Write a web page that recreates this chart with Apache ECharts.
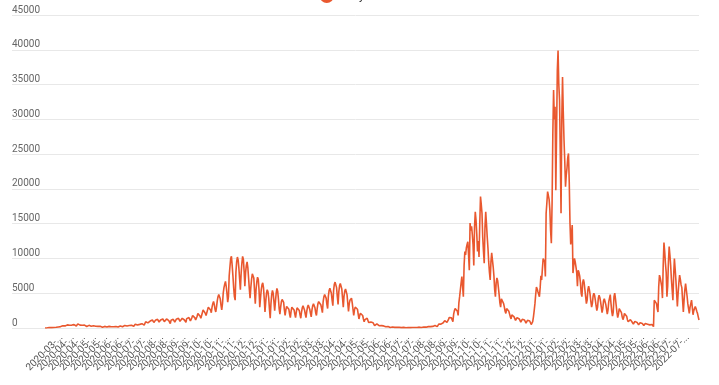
<!DOCTYPE html>
<html>
<head>
<meta charset="utf-8">
<script src="https://cdn.jsdelivr.net/npm/echarts@6/dist/echarts.min.js"></script>
<style>html,body{margin:0;padding:0;background:#fff}#c{width:719px;height:385px}</style>
</head>
<body>
<div id="c"></div>
<script>
const seriesName = 'Daily cases';
const startDate = '2020-03-08';
const yTicks = [0, 5000, 10000, 15000, 20000, 25000, 30000, 35000, 40000, 45000];
const dailyValues = [
10,15,20,25,30,40,50,
40,35,50,60,70,80,90,
80,100,70,120,150,170,190,
200,160,250,320,350,330,300,
210,380,450,480,460,400,330,
260,420,500,520,480,430,350,
280,450,600,550,500,420,340,
250,400,470,450,420,360,300,
220,330,400,380,350,310,260,
190,280,330,320,300,260,220,
150,230,270,260,240,210,170,
120,190,240,230,210,180,150,
110,180,230,220,200,170,140,
110,190,250,240,220,190,160,
140,230,300,290,270,230,190,
170,290,370,360,330,290,240,
210,350,450,430,400,350,290,
260,420,550,530,500,430,350,
320,520,680,650,620,540,440,
420,700,900,880,850,740,600,
560,1000,1250,1200,1150,1000,800,
650,1100,1350,1330,1250,1050,850,
700,1150,1400,1350,1300,1100,900,
640,1050,1300,1250,1200,1050,850,
620,1100,1350,1300,1250,1050,850,
800,1250,1500,1450,1400,1200,950,
700,1150,1400,1380,1300,1150,900,
800,1350,1600,1550,1500,1300,1000,
900,1500,1800,1750,1700,1450,1150,
1000,1700,2100,2000,1950,1700,1400,
1300,2200,2600,2500,2400,2100,1800,
1600,2600,3000,3100,2900,2600,2200,
3000,3500,3800,3400,2700,2300,3000,
3900,4500,4800,5000,4200,3300,2600,
3500,5000,5800,6300,6700,6000,5000,
3700,4500,7500,8800,10000,10300,9000,
7500,5800,4500,4000,8000,9500,10200,
9800,8600,7000,5500,7800,9300,10300,
9900,8200,6000,8000,9000,9500,8700,
7200,5600,4300,5800,7000,7800,8000,
7200,5300,3500,5500,6600,7300,7000,
5500,3000,4300,5500,6200,6500,5800,
4200,2300,3800,5000,5500,5200,4300,
2700,1400,3500,4800,5400,5000,3800,
2500,3800,5000,5700,5300,4200,2800,
2000,3000,3800,4100,4300,3700,2600,
1800,2600,3100,3300,3200,2700,2000,
1500,2400,3000,3200,3100,2600,2000,
1500,2300,2900,3100,3000,2500,1900,
1400,2300,2900,3200,3100,2600,2000,
1500,2400,3000,3300,3200,2700,2100,
1600,2600,3200,3500,3400,2900,2200,
1800,2800,3500,3800,3900,4000,3300,
2800,2200,3800,4500,4800,5000,4300,
3400,2800,4600,5400,5700,5900,5000,
4000,3200,5400,6300,6600,6700,5800,
4500,3400,5200,6100,6400,6500,5600,
4300,3000,4600,5300,5600,5700,4800,
3600,2400,3500,4000,4200,4300,3600,
2700,1800,2600,3000,3100,3200,2700,
2000,1300,1800,2100,2200,2200,1800,
1300,900,1200,1350,1400,1400,1150,
800,550,750,850,900,900,750,
500,350,480,550,600,600,500,
330,220,300,340,350,350,300,
200,130,180,210,220,220,180,
130,80,120,140,150,150,120,
90,50,80,100,110,110,90,
70,40,60,80,90,90,70,
60,30,55,70,80,80,65,
55,30,60,75,85,90,70,
65,40,80,100,110,120,95,
90,60,110,140,150,160,130,
120,80,160,200,220,240,200,
170,110,230,300,330,350,290,
300,200,420,550,620,650,550,
480,320,750,950,1050,1100,950,
800,550,1200,1500,1650,1700,1450,
1200,900,2000,2500,2800,3000,2600,
2400,1800,3600,4500,5500,6500,7400,
6000,4500,9000,11000,10500,11500,12000,
12400,10500,8300,15100,14000,14600,13500,
12000,9000,14500,16700,15500,13500,11000,
12500,10200,15000,18900,17800,16500,13000,
11000,9300,14500,16700,15000,13100,11500,
9500,8000,6900,9500,10800,9800,8800,
7500,5500,4500,6500,7200,6800,5800,
4800,3600,3000,4200,4300,4000,3500,
3000,2400,2100,2800,2900,2700,2400,
2000,1600,1300,1900,2000,1900,1600,
1400,1100,900,1500,1600,1500,1300,
1100,850,700,1250,1350,1300,1150,
1000,700,550,1100,1200,1150,1000,
800,500,300,900,1600,2500,3500,
4800,5900,5600,5200,5000,4500,5800,
7500,6900,8500,10000,9800,9500,7400,
16500,18000,19600,19400,18500,17000,14000,
12200,18000,28000,34200,30000,31800,19800,
28000,37000,39900,35000,32800,25000,16500,
30000,36100,31000,27000,24000,20300,22000,
23000,24500,25100,21000,15100,12000,13500,
14800,7900,9000,10000,9500,8800,8000,
6000,8300,8000,7500,6500,5000,4500,
6500,7000,6500,5500,4500,3500,4000,
5500,6000,5500,4800,3800,3000,3500,
4600,5000,4700,4000,3200,2500,3000,
4300,4700,4400,3800,3000,2200,2800,
3900,4200,4000,3400,2700,2000,2600,
3800,4300,4800,3500,2400,1700,2300,
4500,5000,4200,3200,2200,1500,2000,
2800,3000,2700,2200,1600,1200,1500,
2100,2300,2100,1700,1200,900,1100,
1100,1200,1100,900,700,550,700,
950,1000,950,800,600,450,600,
750,800,750,650,500,350,500,
650,700,650,550,400,300,450,
550,600,500,350,200,4000,3800,
4100,3500,2800,2300,6000,7600,7200,
7400,6000,4300,9000,12300,11000,9300,
8000,4500,6000,9500,11700,10500,9000,
7000,5500,4000,7500,10000,8500,6900,
5000,3100,5000,6500,7600,7000,6200,
5800,4000,2300,4000,5500,6400,5500,
4600,3500,2800,2100,3000,3500,4000,
3000,1900,2500,2800,3100,2800,2400,
2100,1600,1150
];

// category labels (dates), one per value
const categories = [];
(function () {
  const d0 = new Date(startDate + 'T00:00:00Z');
  for (let i = 0; i < dailyValues.length; i++) {
    const d = new Date(d0.getTime() + i * 86400000);
    categories.push(d.toISOString().slice(0, 10));
  }
})();
const N = categories.length;

const chart = echarts.init(document.getElementById('c'), null, {renderer: 'canvas'});
chart.setOption({
  animation: false,
  color: ['#e9582f'],
  legend: {
    top: -16,
    left: 'center',
    icon: 'circle',
    itemWidth: 14,
    itemHeight: 14,
    textStyle: {fontSize: 12, color: '#333', fontFamily: 'Roboto'},
    data: [seriesName]
  },
  grid: [
    {left: 45, right: 20, top: 15, bottom: 57},
    {left: 12, right: 20, top: 15, bottom: 57}
  ],
  xAxis: [
    {
      type: 'category',
      gridIndex: 0,
      data: categories,
      boundaryGap: false,
      axisLine: {show: false},
      axisTick: {show: false},
      axisLabel: {
        rotate: 45,
        fontSize: 10,
        fontFamily: 'Roboto',
        color: '#555',
        margin: 8,
        width: 49,
        overflow: 'truncate',
        ellipsis: '...',
        interval: function (index) { return (N - 1 - index) % 15 === 0; }
      },
      splitLine: {show: false}
    },
    {type: 'value', gridIndex: 1, min: 0, max: 1, show: false}
  ],
  yAxis: [
    {type: 'value', gridIndex: 0, min: yTicks[0], max: yTicks[yTicks.length - 1], interval: 5000, show: false},
    {
      type: 'value',
      gridIndex: 1,
      min: yTicks[0],
      max: yTicks[yTicks.length - 1],
      interval: 5000,
      axisLine: {show: false},
      axisTick: {show: false},
      axisLabel: {
        inside: true,
        margin: 0,
        align: 'left',
        verticalAlign: 'bottom',
        fontSize: 10,
        fontFamily: 'Roboto',
        color: '#666',
        formatter: function (v) { return String(v); }
      },
      splitLine: {lineStyle: {color: '#e8e8e8', width: 1}}
    }
  ],
  series: [{
    name: seriesName,
    type: 'line',
    xAxisIndex: 0,
    yAxisIndex: 0,
    data: dailyValues,
    showSymbol: false,
    symbol: 'circle',
    lineStyle: {width: 1.6, color: '#e9582f'},
    itemStyle: {color: '#e9582f'}
  }]
});
</script>
</body>
</html>
